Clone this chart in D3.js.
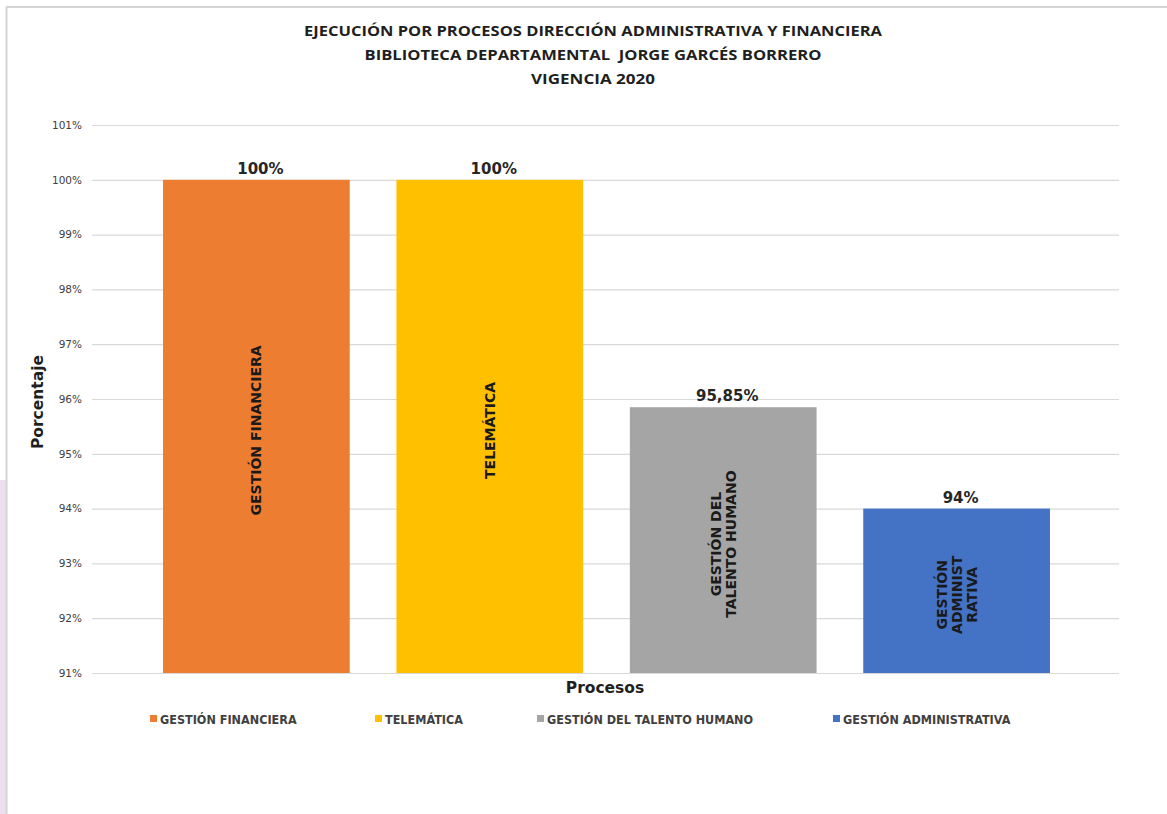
<!DOCTYPE html>
<html>
<head>
<meta charset="utf-8">
<script src="https://cdn.jsdelivr.net/npm/d3@7"></script>
<style>
  body { margin: 0; background: #fff; }
  svg { display: block; }
  text { white-space: pre; }
</style>
</head>
<body>
<script>
// canvas numbers
var w = 1167;
var h = 814;

// data
var procesos = ["GESTIÓN FINANCIERA", "TELEMÁTICA", "GESTIÓN DEL TALENTO HUMANO", "GESTIÓN ADMINISTRATIVA"];
var valores = [100, 100, 95.85, 94];
var etiquetasValor = ["100%", "100%", "95,85%", "94%"];
// text written inside each bar, line by line
var etiquetasBarra = [["GESTIÓN FINANCIERA"], ["TELEMÁTICA"], ["GESTIÓN DEL", "TALENTO HUMANO"], ["GESTIÓN", "ADMINIST", "RATIVA"]];
var colores = ["#ED7D31", "#FFC000", "#A5A5A5", "#4472C4"];
var yTicks = [91, 92, 93, 94, 95, 96, 97, 98, 99, 100, 101];
var titulo = ["EJECUCIÓN POR PROCESOS DIRECCIÓN ADMINISTRATIVA Y FINANCIERA",
              "BIBLIOTECA DEPARTAMENTAL  JORGE GARCÉS BORRERO",
              "VIGENCIA 2020"];
var tituloAncho = [578, 457, 124];

var svg = d3.select("body").append("svg")
    .attr("width", w)
    .attr("height", h);

svg.append("rect").attr("width", w).attr("height", h).attr("fill", "#fff");

// pinkish strip + frame of the screenshot
svg.append("rect").attr("x", 0).attr("y", 480).attr("width", 6).attr("height", h - 480).attr("fill", "#ebe1ec");
svg.append("line").attr("x1", 6).attr("x2", w).attr("y1", 7).attr("y2", 7).attr("stroke", "#d4d4d4").attr("stroke-width", 2);
svg.append("line").attr("x1", 6.5).attr("x2", 6.5).attr("y1", 7).attr("y2", h).attr("stroke", "#d4d4d4").attr("stroke-width", 2);

// scales
var x = d3.scaleBand()
    .domain(procesos)
    .range([93, 1120])
    .paddingInner(0.2)
    .paddingOuter(0.3);

var y = d3.scaleLinear()
    .domain([91, 101])
    .range([673, 125]);

// title
svg.append("g").selectAll("text")
    .data(titulo)
    .enter().append("text")
    .attr("x", 593)
    .attr("y", function(d, i) { return 36 + i * 24; })
    .attr("text-anchor", "middle")
    .attr("font-family", "'Open Sans', sans-serif")
    .attr("font-weight", "bold")
    .attr("font-size", 15)
    .attr("textLength", function(d, i) { return tituloAncho[i]; })
    .attr("lengthAdjust", "spacingAndGlyphs")
    .attr("fill", "#1f1f1f")
    .text(function(d) { return d; });

// gridlines + y tick labels
var yAxis = svg.append("g")
    .attr("transform", "translate(92,0)")
    .call(d3.axisLeft(y).tickValues(yTicks).tickSize(-1027).tickPadding(10)
        .tickFormat(function(d) { return d + "%"; }));
yAxis.select(".domain").remove();
yAxis.selectAll(".tick line").attr("stroke", "#d9d9d9").attr("stroke-width", 1.2);
yAxis.selectAll(".tick text")
    .attr("font-family", "'DejaVu Sans', sans-serif")
    .attr("font-size", 10.5)
    .attr("fill", "#404040");

// bars
svg.append("g").selectAll("rect")
    .data(valores)
    .enter().append("rect")
    .attr("x", function(d, i) { return x(procesos[i]); })
    .attr("y", function(d) { return y(d); })
    .attr("width", x.bandwidth())
    .attr("height", function(d) { return y(91) - y(d); })
    .attr("fill", function(d, i) { return colores[i]; });

// value labels above bars
svg.append("g").selectAll("text")
    .data(valores)
    .enter().append("text")
    .attr("x", function(d, i) { return x(procesos[i]) + x.bandwidth() / 2 + 4; })
    .attr("y", function(d) { return y(d) - 6; })
    .attr("text-anchor", "middle")
    .attr("font-family", "'DejaVu Sans', sans-serif")
    .attr("font-weight", "bold")
    .attr("font-size", 15)
    .attr("fill", "#262626")
    .text(function(d, i) { return etiquetasValor[i]; });

// rotated text inside bars
var lh = 15;
svg.append("g").selectAll("text")
    .data(valores)
    .enter().append("text")
    .attr("transform", function(d, i) {
        var cx = x(procesos[i]) + x.bandwidth() / 2;
        var cy = (y(d) + y(91)) / 2 + 4;
        return "translate(" + cx + "," + cy + ") rotate(-90)";
    })
    .attr("text-anchor", "middle")
    .attr("font-family", "'DejaVu Sans', sans-serif")
    .attr("font-weight", "bold")
    .attr("font-size", 14)
    .attr("fill", "#1a1a1a")
    .each(function(d, i) {
        var lines = etiquetasBarra[i];
        var t = d3.select(this);
        lines.forEach(function(l, k) {
            t.append("tspan")
                .attr("x", 0)
                .attr("y", (k - (lines.length - 1) / 2) * lh + 5)
                .text(l);
        });
    });

// axis titles
svg.append("text")
    .attr("transform", "translate(43,402) rotate(-90)")
    .attr("text-anchor", "middle")
    .attr("font-family", "'DejaVu Sans', sans-serif")
    .attr("font-weight", "bold")
    .attr("font-size", 15.5)
    .attr("fill", "#1f1f1f")
    .text("Porcentaje");

svg.append("text")
    .attr("x", 605)
    .attr("y", 693)
    .attr("text-anchor", "middle")
    .attr("font-family", "'DejaVu Sans', sans-serif")
    .attr("font-weight", "bold")
    .attr("font-size", 15.5)
    .attr("fill", "#1f1f1f")
    .text("Procesos");

// legend
var legendX = [150, 375, 537, 833];
var legend = svg.append("g").selectAll("g")
    .data(procesos)
    .enter().append("g")
    .attr("transform", function(d, i) { return "translate(" + legendX[i] + ",719)"; });

legend.append("rect")
    .attr("x", 0)
    .attr("y", -4)
    .attr("width", 7)
    .attr("height", 7)
    .attr("fill", function(d, i) { return colores[i]; });

legend.append("text")
    .attr("x", 10)
    .attr("y", 4.5)
    .attr("font-family", "'DejaVu Sans Condensed', 'DejaVu Sans', sans-serif")
    .attr("font-weight", "bold")
    .attr("font-size", 12.5)
    .attr("fill", "#404040")
    .text(function(d) { return d; });
</script>
</body>
</html>
